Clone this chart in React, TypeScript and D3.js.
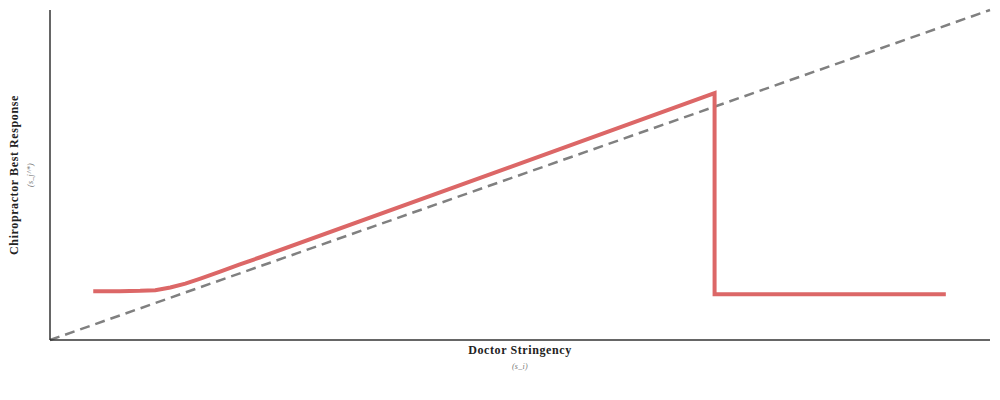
import React from "react";
import * as d3 from "d3";

const W = 1000;
const H = 400;
const margin = { left: 50, right: 10, top: 10, bottom: 60 };

// Doctor stringency (x) and chiropractor best response (y)
const responseX = [0.046, 0.074, 0.096, 0.112, 0.128, 0.144, 0.16, 0.181, 0.202, 0.223, 0.707, 0.707, 0.953];
const responseY = [0.148, 0.148, 0.149, 0.151, 0.159, 0.171, 0.186, 0.207, 0.229, 0.25, 0.748, 0.139, 0.139];

const diagX = [0, 1];
const diagY = [0, 1];

const xLabel = "Doctor Stringency";
const xSub = "(s_i)";
const yLabel = "Chiropractor Best Response";
const ySub = "(s_j^*)";

export default function App() {
  const x = d3.scaleLinear().domain([0, 1]).range([margin.left, W - margin.right]);
  const y = d3.scaleLinear().domain([0, 1]).range([H - margin.bottom, margin.top]);

  const line = d3
    .line<number>()
    .x((_, i) => x(responseX[i]))
    .y((d) => y(d));

  const diag = d3
    .line<number>()
    .x((_, i) => x(diagX[i]))
    .y((d) => y(d));

  const font = "'Liberation Serif', 'DejaVu Serif', serif";
  const x0 = margin.left;
  const x1 = W - margin.right;
  const yBottom = H - margin.bottom;

  return (
    <svg
      width={W}
      height={H}
      style={{ position: "absolute", left: 0, top: 0, display: "block", background: "#fff" }}
    >
      <path d={diag(diagY) || ""} fill="none" stroke="#808080" strokeWidth={2.5} strokeDasharray="10,6" />
      <path
        d={line(responseY) || ""}
        fill="none"
        stroke="#dc6767"
        strokeWidth={4}
        strokeLinejoin="miter"
        strokeLinecap="butt"
      />
      <line x1={x0} x2={x0} y1={margin.top} y2={yBottom} stroke="#333" strokeWidth={1.5} />
      <line x1={x0} x2={x1} y1={yBottom} y2={yBottom} stroke="#333" strokeWidth={1.5} />

      <text x={(x0 + x1) / 2} y={354} textAnchor="middle" fontFamily={font} fontWeight="bold" fontSize={12} letterSpacing={0.6} fill="#222">
        {xLabel}
      </text>
      <text x={(x0 + x1) / 2} y={369} textAnchor="middle" fontFamily={font} fontStyle="italic" fontSize={8} letterSpacing={0.3} fill="#777">
        {xSub}
      </text>
      <text
        transform={`translate(18,${(margin.top + yBottom) / 2}) rotate(-90)`}
        textAnchor="middle"
        fontFamily={font}
        fontWeight="bold"
        fontSize={12}
        letterSpacing={0.6}
        fill="#222"
      >
        {yLabel}
      </text>
      <text
        transform={`translate(33,${(margin.top + yBottom) / 2}) rotate(-90)`}
        textAnchor="middle"
        fontFamily={font}
        fontStyle="italic"
        fontSize={8}
        letterSpacing={0.3}
        fill="#777"
      >
        {ySub}
      </text>
    </svg>
  );
}
